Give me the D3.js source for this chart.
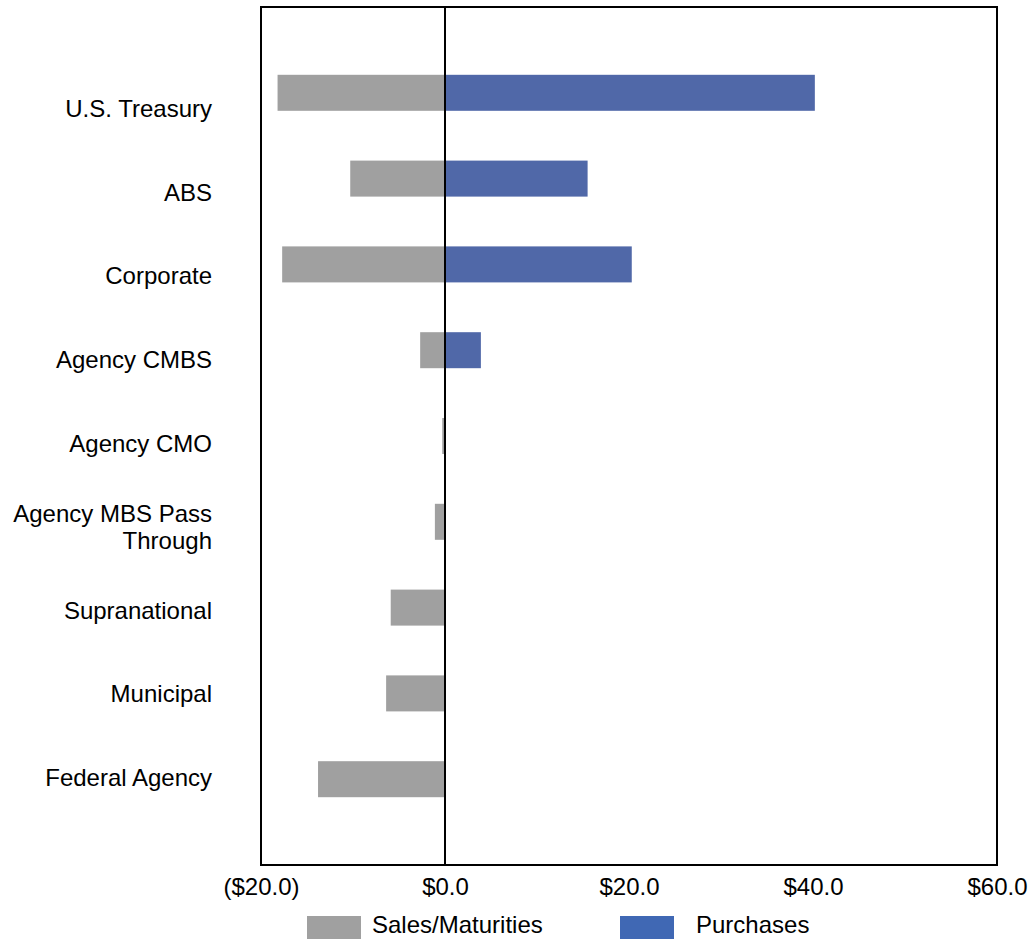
<!DOCTYPE html>
<html>
<head>
<meta charset="utf-8">
<script src="https://cdn.jsdelivr.net/npm/d3@7"></script>
<style>
  html, body { margin: 0; padding: 0; background: #fff; }
  svg { display: block; font-family: "Liberation Sans", Arial, sans-serif; }
</style>
</head>
<body>
<svg id="chart" width="1030" height="939"></svg>
<script>
// Portfolio activity by sector ($ millions)
const categories = [
  "U.S. Treasury", "ABS", "Corporate", "Agency CMBS", "Agency CMO",
  "Agency MBS Pass Through", "Supranational", "Municipal", "Federal Agency"
];
const salesMaturities = [-18.2, -10.3, -17.7, -2.7, -0.3, -1.1, -5.9, -6.4, -13.8];
const purchases = [40.2, 15.5, 20.3, 3.9, 0, 0, 0, 0, 0];
const xTicks = [-20, 0, 20, 40, 60];
const seriesNames = ["Sales/Maturities", "Purchases"];

const svg = d3.select("#chart");
const margin = { left: 261, right: 33, top: 7, bottom: 74 };
const W = 1030, H = 939;
const plotW = W - margin.left - margin.right;
const plotH = H - margin.top - margin.bottom;
const fontSize = 24;

const x = d3.scaleLinear().domain([-20, 60]).range([margin.left, margin.left + plotW]);
const y = d3.scalePoint().domain(categories).range([margin.top, margin.top + plotH]).padding(1);
// category labels sit on their own evenly spaced baselines
const yLabel = d3.scalePoint().domain(categories).range([117, 786]);
const barH = 36;

const fmt = v => v < 0 ? `($${Math.abs(v).toFixed(1)})` : `$${v.toFixed(1)}`;

// bars
const g = svg.append("g");
g.selectAll("rect.sales").data(categories).join("rect")
  .attr("class", "sales")
  .attr("x", (d, i) => x(salesMaturities[i]))
  .attr("y", d => y(d) - barH / 2)
  .attr("width", (d, i) => x(0) - x(salesMaturities[i]))
  .attr("height", barH)
  .attr("fill", "#a0a0a0");

g.selectAll("rect.purch").data(categories).join("rect")
  .attr("class", "purch")
  .attr("x", x(0))
  .attr("y", d => y(d) - barH / 2)
  .attr("width", (d, i) => x(purchases[i]) - x(0))
  .attr("height", barH)
  .attr("fill", "#5068a8");

// frame
svg.append("rect")
  .attr("x", margin.left).attr("y", margin.top)
  .attr("width", plotW).attr("height", plotH)
  .attr("fill", "none").attr("stroke", "#000").attr("stroke-width", 2);

// zero line
svg.append("line")
  .attr("x1", x(0)).attr("x2", x(0))
  .attr("y1", margin.top).attr("y2", margin.top + plotH)
  .attr("stroke", "#000").attr("stroke-width", 2);

// x axis
const xAxis = d3.axisBottom(x).tickValues(xTicks).tickFormat(fmt).tickSize(0).tickPadding(13);
const xg = svg.append("g").attr("transform", `translate(0,${margin.top + plotH})`).call(xAxis);
xg.select(".domain").remove();
xg.selectAll("text").attr("font-size", fontSize).attr("fill", "#000")
  .attr("font-family", "'Liberation Sans', Arial, sans-serif");

// category labels
const labelX = 212;
categories.forEach(c => {
  const t = svg.append("text")
    .attr("text-anchor", "end")
    .attr("font-size", fontSize)
    .attr("fill", "#000");
  if (c === "Agency MBS Pass Through") {
    t.append("tspan").attr("x", labelX).attr("y", yLabel(c) - 13).text("Agency MBS Pass");
    t.append("tspan").attr("x", labelX).attr("y", yLabel(c) + 14).text("Through");
  } else {
    t.attr("x", labelX).attr("y", yLabel(c)).text(c);
  }
});

// legend
const legendItems = [
  { name: seriesNames[0], color: "#a0a0a0", x: 307, tx: 372 },
  { name: seriesNames[1], color: "#4068b4", x: 620, tx: 696 }
];
const lg = svg.append("g");
legendItems.forEach(d => {
  lg.append("rect").attr("x", d.x).attr("y", 916).attr("width", 54).attr("height", 23).attr("fill", d.color);
  lg.append("text").attr("x", d.tx).attr("y", 933).attr("font-size", fontSize).attr("fill", "#000").text(d.name);
});
</script>
</body>
</html>
